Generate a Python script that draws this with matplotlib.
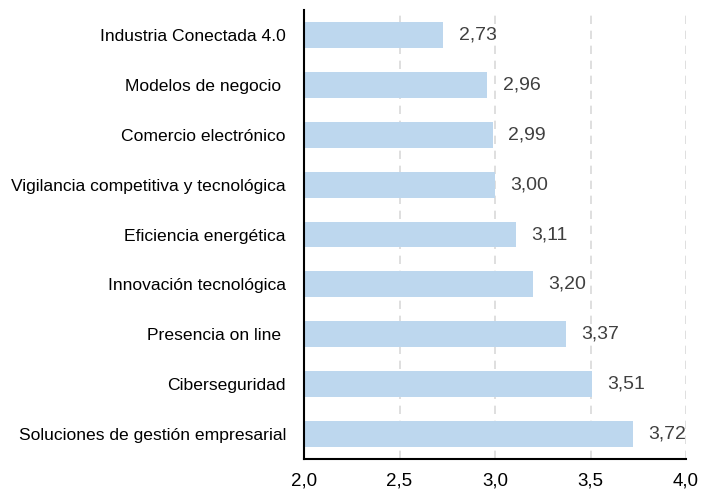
import matplotlib
matplotlib.use("Agg")
import matplotlib.pyplot as plt

categories = ["Industria Conectada 4.0", "Modelos de negocio ", "Comercio electrónico",
              "Vigilancia competitiva y tecnológica", "Eficiencia energética",
              "Innovación tecnológica", "Presencia on line ", "Ciberseguridad",
              "Soluciones de gestión empresarial"]
values = [2.73, 2.96, 2.99, 3.00, 3.11, 3.20, 3.37, 3.51, 3.72]
xticks = [2.0, 2.5, 3.0, 3.5, 4.0]
xticklabels = ["2,0", "2,5", "3,0", "3,5", "4,0"]

plt.rcParams['font.family'] = ['Liberation Sans', 'DejaVu Sans']
fig = plt.figure(figsize=(7.12, 4.96), dpi=100)
ax = fig.add_axes([304/712, 1-459/496, (686-304)/712, (459-10)/496])

y = list(range(len(categories)))
ax.barh(y, [v - 2.0 for v in values], left=2.0, height=0.52, color="#BDD7EE", zorder=2)
for yi, v in zip(y, values):
    ax.text(v + 0.08, yi, f"{v:.2f}".replace(".", ","), va="center", ha="left",
            fontsize=14, color="#404040")
ax.set_ylim(len(categories) - 0.5, -0.5)
ax.set_xlim(2.0, 4.0)
ax.set_yticks(y)
ax.set_yticklabels(categories, fontsize=12.6)
ax.set_xticks(xticks)
ax.set_xticklabels(xticklabels, fontsize=13.5)
ax.tick_params(axis="x", length=0, pad=10)
ax.tick_params(axis="y", length=0, pad=13)
ax.grid(axis="x", color="#D9D9D9", linestyle=(0, (5, 4)), linewidth=1.2, zorder=0)
for s in ["top", "right"]:
    ax.spines[s].set_visible(False)
ax.spines["left"].set_linewidth(1.5)
ax.spines["bottom"].set_linewidth(1.5)
fig.savefig("out.png", dpi=100)
